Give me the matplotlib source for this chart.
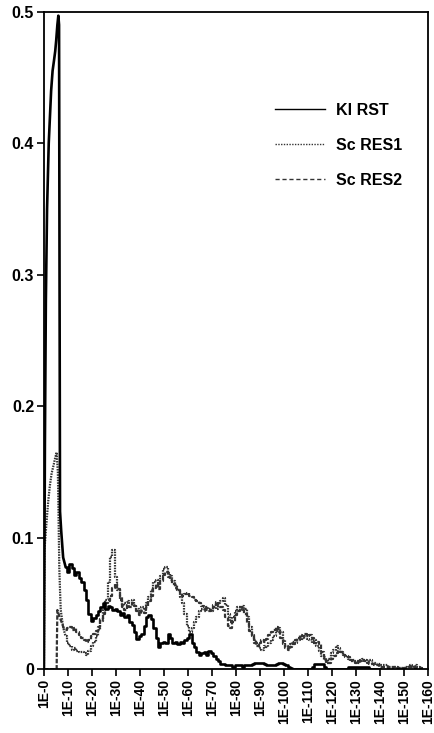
import numpy as np
import matplotlib
matplotlib.use('Agg')
from matplotlib import pyplot as plt

plt.rcParams['font.family'] = ['Liberation Sans', 'DejaVu Sans']
plt.rcParams['font.weight'] = 'bold'

# Kl RST: the sharp spike near the origin, then a tail sampled at every unit from 9
krst_spike_x = [0, 0.2, 0.4, 0.8, 1.3, 2.0, 3.0, 3.6, 4.2, 4.7, 5.1, 5.6, 6.0, 6.3, 6.5, 6.7, 7.2, 8.0]
krst_spike_y = [0.0, 0.08, 0.17, 0.28, 0.35, 0.40, 0.44, 0.455, 0.463, 0.47, 0.478, 0.49, 0.497, 0.49,
                0.30, 0.12, 0.105, 0.085]
krst_tail = [0.078, 0.074, 0.080, 0.077, 0.072, 0.074, 0.069, 0.066, 0.060, 0.053,   # 9-18
             0.042, 0.037, 0.039, 0.041, 0.044, 0.047, 0.050, 0.046, 0.048, 0.047,   # 19-28
             0.045, 0.046, 0.044, 0.041, 0.043, 0.040, 0.041, 0.036, 0.034, 0.028,   # 29-38
             0.023, 0.025, 0.027, 0.033, 0.040, 0.041, 0.038, 0.031, 0.024, 0.017,   # 39-48
             0.020, 0.021, 0.020, 0.027, 0.024, 0.020, 0.021, 0.019, 0.021, 0.020,   # 49-58
             0.022, 0.024, 0.027, 0.020, 0.017, 0.013, 0.011, 0.012, 0.013, 0.011,   # 59-68
             0.014, 0.012, 0.010, 0.008, 0.006, 0.004, 0.004, 0.003, 0.003, 0.003,   # 69-78
             0.002, 0.003, 0.003, 0.003, 0.002, 0.003, 0.003, 0.003, 0.004, 0.005,   # 79-88
             0.005, 0.005, 0.005, 0.004, 0.003, 0.003, 0.003, 0.003, 0.004, 0.005,   # 89-98
             0.005, 0.004, 0.003, 0.002, 0.001, 0.0, 0.0, 0.0, 0.0, 0.0,             # 99-108
             0.0, 0.0, 0.0, 0.002, 0.004, 0.004, 0.004, 0.004, 0.002, 0.0,           # 109-118
             0.0, 0.0, 0.0, 0.0, 0.0, 0.0, 0.0, 0.0, 0.0015, 0.0015,                 # 119-128
             0.0015, 0.0015, 0.0015, 0.0015, 0.0015, 0.0015, 0.0015, 0.0, 0.0, 0.0,  # 129-138
             0.0, 0.0]                                                               # 139-140

# Sc RES1 (dotted)
res1_spike_x = [0, 0.2, 1.0, 1.8, 2.5, 3.2, 4.0, 4.6, 5.3, 5.8, 6.0, 6.4, 6.7, 7.0, 8.0]
res1_spike_y = [0.0, 0.09, 0.11, 0.128, 0.14, 0.149, 0.155, 0.16, 0.165, 0.15, 0.128, 0.077, 0.06,
                0.045, 0.032]
res1_tail = [0.025, 0.020, 0.018, 0.015, 0.016, 0.014, 0.013, 0.013, 0.012, 0.011,   # 9-18
             0.014, 0.018, 0.021, 0.025, 0.030, 0.037, 0.045, 0.053, 0.066, 0.085,   # 19-28
             0.091, 0.070, 0.060, 0.053, 0.048, 0.050, 0.052, 0.050, 0.053, 0.049,   # 29-38
             0.046, 0.044, 0.047, 0.045, 0.050, 0.055, 0.060, 0.066, 0.068, 0.064,   # 39-48
             0.071, 0.076, 0.078, 0.073, 0.071, 0.067, 0.064, 0.060, 0.055, 0.050,   # 49-58
             0.042, 0.033, 0.028, 0.031, 0.036, 0.040, 0.044, 0.046, 0.044, 0.047,   # 59-68
             0.046, 0.044, 0.047, 0.046, 0.050, 0.052, 0.054, 0.049, 0.042, 0.036,   # 69-78
             0.040, 0.044, 0.047, 0.045, 0.048, 0.046, 0.040, 0.032, 0.026, 0.022,   # 79-88
             0.020, 0.016, 0.015, 0.018, 0.017, 0.020, 0.022, 0.025, 0.029, 0.031,   # 89-98
             0.028, 0.022, 0.018, 0.016, 0.019, 0.021, 0.020, 0.022, 0.024, 0.023,   # 99-108
             0.025, 0.023, 0.022, 0.020, 0.022, 0.018, 0.014, 0.010, 0.007, 0.005,   # 109-118
             0.008, 0.012, 0.015, 0.018, 0.016, 0.013, 0.011, 0.010, 0.008, 0.006,   # 119-128
             0.007, 0.006, 0.005, 0.006, 0.008, 0.007, 0.006, 0.007, 0.005, 0.005,   # 129-138
             0.004, 0.004, 0.003, 0.003, 0.003, 0.002, 0.002, 0.002, 0.002, 0.001,   # 139-148
             0.001, 0.001, 0.002, 0.002, 0.003, 0.002, 0.003, 0.002, 0.001, 0.0]     # 149-158

# Sc RES2 (dashed)
res2_spike_x = [0, 5.3, 5.4, 5.6, 6.5, 7.5, 8.5]
res2_spike_y = [0.0, 0.0, 0.02, 0.045, 0.040, 0.035, 0.030]
res2_tail = [0.030, 0.031, 0.032, 0.030, 0.031, 0.028, 0.026, 0.024, 0.022, 0.021,   # 9-18
             0.022, 0.025, 0.027, 0.029, 0.032, 0.038, 0.042, 0.050, 0.052, 0.056,   # 19-28
             0.062, 0.065, 0.061, 0.055, 0.047, 0.045, 0.049, 0.047, 0.050, 0.048,   # 29-38
             0.044, 0.041, 0.044, 0.043, 0.047, 0.052, 0.056, 0.062, 0.065, 0.061,   # 39-48
             0.067, 0.072, 0.074, 0.070, 0.068, 0.065, 0.062, 0.060, 0.058, 0.056,   # 49-58
             0.057, 0.058, 0.056, 0.055, 0.053, 0.052, 0.050, 0.048, 0.047, 0.045,   # 59-68
             0.044, 0.045, 0.049, 0.051, 0.048, 0.047, 0.045, 0.040, 0.033, 0.031,   # 69-78
             0.036, 0.041, 0.044, 0.047, 0.045, 0.042, 0.035, 0.029, 0.025, 0.020,   # 79-88
             0.018, 0.020, 0.022, 0.021, 0.023, 0.026, 0.028, 0.030, 0.032, 0.028,   # 89-98
             0.024, 0.019, 0.016, 0.015, 0.017, 0.019, 0.022, 0.024, 0.026, 0.025,   # 99-108
             0.027, 0.025, 0.026, 0.024, 0.020, 0.021, 0.019, 0.013, 0.009, 0.006,   # 109-118
             0.005, 0.008, 0.010, 0.012, 0.014, 0.013, 0.011, 0.009, 0.009, 0.007,   # 119-128
             0.006, 0.005, 0.006, 0.007, 0.007, 0.006, 0.005, 0.004, 0.004, 0.003,   # 129-138
             0.003, 0.002, 0.002, 0.002, 0.002, 0.001, 0.001, 0.002, 0.001, 0.001,   # 139-148
             0.001, 0.001, 0.001, 0.002, 0.002, 0.002, 0.001, 0.001, 0.001, 0.0]     # 149-158

x_ticks = list(range(0, 161, 10))
x_tick_labels = ['1E-%d' % t for t in x_ticks]
y_ticks = [0, 0.1, 0.2, 0.3, 0.4, 0.5]
y_tick_labels = ['0', '0.1', '0.2', '0.3', '0.4', '0.5']


def draw_series(ax, spike_x, spike_y, tail, label, **style):
    # the spike is drawn as a plain line, the tail as a jagged staircase
    tail_x = list(range(9, 9 + len(tail)))
    ax.plot(list(spike_x) + tail_x[:1], list(spike_y) + tail[:1], **style)
    return ax.plot(tail_x, tail, drawstyle='steps-mid', label=label, **style)[0]


def main():
    fig = plt.figure(figsize=(4.35, 7.33), dpi=100)
    ax = fig.add_axes([0.101, 0.087, 0.883, 0.897])

    h1 = draw_series(ax, res1_spike_x, res1_spike_y, res1_tail, 'Sc RES1',
                     color='#333333', lw=1.6, ls=(0, (0.7, 0.5)))
    h2 = draw_series(ax, res2_spike_x, res2_spike_y, res2_tail, 'Sc RES2',
                     color='#333333', lw=1.6, ls=(0, (2, 0.8)))
    h0 = draw_series(ax, krst_spike_x, krst_spike_y, krst_tail, 'Kl RST',
                     color='black', lw=1.9)

    ax.set_xlim(0, 160)
    ax.set_ylim(0, 0.5)
    ax.set_xticks(x_ticks)
    ax.set_xticklabels(x_tick_labels, rotation=90, fontsize=10, fontweight='bold')
    ax.set_yticks(y_ticks)
    ax.set_yticklabels(y_tick_labels, fontsize=11.5, fontweight='bold')
    ax.tick_params(direction='out', length=5, width=1.2, pad=2)
    for s in ax.spines.values():
        s.set_linewidth(1.3)

    leg = ax.legend([h0, h1, h2], ['Kl RST', 'Sc RES1', 'Sc RES2'], loc='upper left',
                    bbox_to_anchor=(0.565, 0.883), frameon=False, handlelength=3.1,
                    labelspacing=1.25, handletextpad=0.7,
                    prop={'weight': 'bold', 'size': 11.5})
    styles = ['-', (0, (1, 1)), (0, (3, 2))]
    for line, st in zip(leg.get_lines(), styles):
        line.set_linewidth(1.0)
        line.set_linestyle(st)
        line.set_drawstyle('default')

    fig.savefig('out.png', dpi=100)


if __name__ == "__main__":
    main()
